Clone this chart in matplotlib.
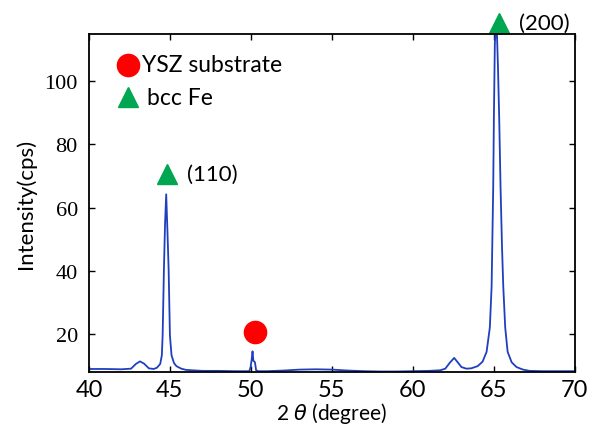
import matplotlib
matplotlib.use('Agg')
import matplotlib.pyplot as plt

# XRD pattern
two_theta = [40.0, 41.0, 42.0, 42.6, 42.9, 43.15, 43.4, 43.7, 44.0, 44.2, 44.4, 44.5,
             44.55, 44.63, 44.7, 44.77, 44.85, 44.92, 45.0, 45.1, 45.25, 45.4, 45.7,
             46.0, 47.0, 48.0, 49.0, 49.9, 49.98, 50.05, 50.1, 50.15, 50.2, 50.25,
             50.32, 50.45, 51.0, 52.0, 53.0, 54.0, 55.0, 56.0, 57.0, 58.0, 59.0, 60.0,
             61.0, 61.7, 62.0, 62.3, 62.55, 62.8, 63.0, 63.3, 63.6, 64.0, 64.3, 64.55,
             64.75, 64.86, 64.96, 65.0, 65.06, 65.16, 65.25, 65.33, 65.41, 65.5, 65.58,
             65.7, 65.85, 66.1, 66.4, 66.8, 67.2, 68.0, 69.0, 70.0]
intensity = [8.9, 8.9, 8.8, 9.0, 10.5, 11.3, 10.6, 9.1, 8.9, 9.3, 10.5, 13.2,
             19.5, 40.5, 55.0, 64.2, 52.0, 40.5, 19.5, 13.2, 10.8, 9.8, 9.0,
             8.6, 8.3, 8.3, 8.2, 8.2, 9.5, 12.0, 14.5, 11.5, 11.3, 11.0,
             8.5, 8.2, 8.2, 8.4, 8.7, 8.8, 8.7, 8.4, 8.2, 8.1, 8.1, 8.2,
             8.3, 8.5, 9.0, 11.0, 12.4, 10.8, 9.5, 9.0, 9.1, 9.8, 11.2, 14.3,
             22.0, 35.0, 66.8, 88.0, 112.0, 120.0, 105.0, 88.0, 66.8, 48.0, 35.0,
             22.0, 14.3, 11.0, 9.5, 8.7, 8.3, 8.2, 8.2, 8.2]

xticks = [40, 45, 50, 55, 60, 65, 70]
yticks = [20, 40, 60, 80, 100]

# peak markers: (x, y, label)
fe_peaks = [(44.85, 70.6, '(110)'), (65.34, 118.6, '(200)')]
ysz_peak = (50.25, 20.6)

fig = plt.figure(figsize=(5.89, 4.31), dpi=100)
ax = fig.add_axes([0.151, 0.135, 0.825, 0.784])

ax.plot(two_theta, intensity, color='#1f3fbf', lw=1.3)
ax.set_xlim(40, 70)
ax.set_ylim(8, 115)

ax.set_xticks(xticks)
ax.set_yticks(yticks)
ax.tick_params(direction='in', top=True, right=True, length=4, width=1)
ax.tick_params(axis='x', pad=5)
ax.tick_params(axis='y', pad=8)
for lab in ax.get_xticklabels():
    lab.set_family('Lato')
    lab.set_fontsize(17)
for lab in ax.get_yticklabels():
    lab.set_family('Liberation Serif')
    lab.set_fontsize(16)
for s in ax.spines.values():
    s.set_linewidth(1.3)

ax.set_xlabel(r'2 $\theta$ (degree)', family='Lato', fontsize=15, labelpad=0)
ax.set_ylabel('Intensity(cps)', family='Lato', fontsize=16, labelpad=6)

# peak labels
ax.plot(*ysz_peak, 'o', color='red', ms=16, clip_on=False)
for x, y, lab in fe_peaks:
    ax.plot(x, y, '^', color='#00a650', ms=15, clip_on=False)
    ax.text(x + 1.2, y, lab, family='Lato', fontsize=16, va='center', clip_on=False)

# legend drawn as text
ax.plot(42.4, 105.3, 'o', color='red', ms=16)
ax.text(43.3, 105.3, 'YSZ substrate', family='Lato', fontsize=16.5, va='center')
ax.plot(42.4, 94.9, '^', color='#00a650', ms=15)
ax.text(43.6, 94.9, 'bcc Fe', family='Lato', fontsize=16.5, va='center')

fig.savefig('out.png', dpi=100)
